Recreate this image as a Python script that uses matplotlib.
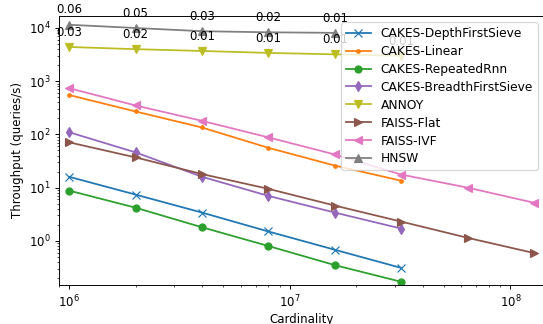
import matplotlib
matplotlib.use("Agg")
from matplotlib import pyplot as plt

cardinality = [1e6, 2e6, 4e6, 8e6, 16e6, 32e6, 64e6, 128e6]

depth_first = [16, 7.4, 3.4, 1.5, 0.68, 0.31]
linear = [550, 270, 135, 56, 26, 13.5]
repeated_rnn = [8.8, 4.2, 1.8, 0.8, 0.35, 0.17]
breadth_first = [110, 46, 16, 7.0, 3.4, 1.7]
annoy = [4400, 4000, 3700, 3400, 3200, 3000]
faiss_flat = [71, 37, 18, 9.5, 4.6, 2.3, 1.14, 0.59]
faiss_ivf = [740, 350, 180, 88, 42, 17.6, 10, 5.2]
hnsw = [11500, 10000, 8700, 8300, 8100]

annoy_recall = ["0.03", "0.02", "0.01", "0.01", "0.01", "0.01"]
hnsw_recall = ["0.06", "0.05", "0.03", "0.02", "0.01"]

series = [
    ("CAKES-DepthFirstSieve", depth_first, "x", "tab:blue"),
    ("CAKES-Linear", linear, ".", "tab:orange"),
    ("CAKES-RepeatedRnn", repeated_rnn, "o", "tab:green"),
    ("CAKES-BreadthFirstSieve", breadth_first, "d", "tab:purple"),
    ("ANNOY", annoy, "v", "tab:olive"),
    ("FAISS-Flat", faiss_flat, ">", "tab:brown"),
    ("FAISS-IVF", faiss_ivf, "<", "tab:pink"),
    ("HNSW", hnsw, "^", "tab:gray"),
]

DPI = 85
fig = plt.figure(figsize=(543 / DPI, 324 / DPI), dpi=DPI)
# axes placed in pixels of the 543x324 picture, right spine on the edge
ax = fig.add_axes([59 / 543, 39 / 324, 485 / 543, 269 / 324])

for name, vals, m, c in series:
    ax.plot(cardinality[:len(vals)], vals, marker=m, color=c, label=name)

# recall labels above the points
for vals, labels in [(annoy, annoy_recall), (hnsw, hnsw_recall)]:
    for x, y, t in zip(cardinality, vals, labels):
        ax.annotate(t, (x, y), xytext=(0, 7), textcoords="offset points",
                    ha="center", va="bottom")

ax.set_xscale("log")
ax.set_yscale("log")
ax.set_xlim(9.0e5, 1.42e8)
ax.set_ylim(0.148, 1.68e4)
ax.set_xlabel("Cardinality", labelpad=2.5)
ax.set_ylabel("Throughput (queries/s)")
ax.legend(loc="upper right", fontsize=10.4, labelspacing=0.4)

fig.savefig("out.png", dpi=DPI)
